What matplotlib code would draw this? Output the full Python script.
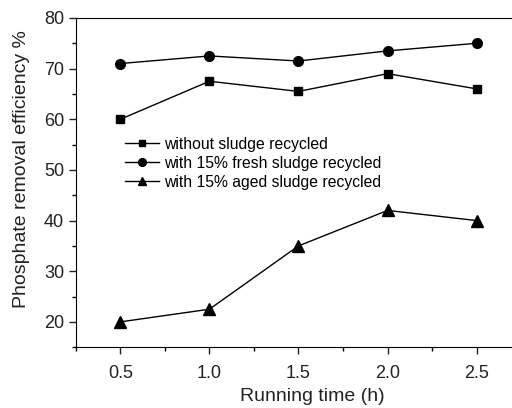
import matplotlib
matplotlib.use("Agg")
import matplotlib.pyplot as plt
from matplotlib.ticker import MultipleLocator, FormatStrFormatter

plt.rcParams["font.family"] = ["Liberation Sans", "DejaVu Sans"]

# data
time_h = [0.5, 1.0, 1.5, 2.0, 2.5]
without_recycled = [60, 67.5, 65.5, 69, 66]
fresh_recycled = [71, 72.5, 71.5, 73.5, 75]
aged_recycled = [20, 22.5, 35, 42, 40]

labels = ["without sludge recycled",
          "with 15% fresh sludge recycled",
          "with 15% aged sludge recycled"]

fig = plt.figure(figsize=(5.12, 4.08), dpi=100)
ax = fig.add_axes([0.148, 0.149, 0.870, 0.807])

ax.plot(time_h, without_recycled, "s-", color="black", lw=1, ms=6, label=labels[0])
ax.plot(time_h, fresh_recycled, "o-", color="black", lw=1, ms=7, label=labels[1])
ax.plot(time_h, aged_recycled, "^-", color="black", lw=1, ms=8, label=labels[2])

ax.set_xlim(0.25, 2.75)
ax.set_ylim(15, 80)
ax.xaxis.set_major_locator(MultipleLocator(0.5))
ax.xaxis.set_minor_locator(MultipleLocator(0.25))
ax.yaxis.set_major_locator(MultipleLocator(10))
ax.yaxis.set_minor_locator(MultipleLocator(5))
ax.xaxis.set_major_formatter(FormatStrFormatter("%.1f"))

ax.tick_params(which="major", direction="out", length=5, width=1, labelsize=13, colors="#222222")
ax.tick_params(which="minor", direction="out", length=3, width=1)
ax.tick_params(axis="x", pad=8)
ax.spines["right"].set_visible(False)

ax.set_xlabel("Running time (h)", fontsize=14, color="#222222", labelpad=6)
ax.set_ylabel("Phosphate removal efficiency %", fontsize=14, color="#222222")
ax.xaxis.set_label_coords(0.532, -0.125)
ax.yaxis.set_label_coords(-0.103, 0.54)

ax.legend(loc="upper left", bbox_to_anchor=(0.11, 0.639), frameon=False,
          fontsize=11.3, handlelength=2.2, handletextpad=0.3, labelspacing=0.25,
          borderaxespad=0, borderpad=0, numpoints=1, markerscale=0.8)

fig.savefig("out.png", dpi=100)
